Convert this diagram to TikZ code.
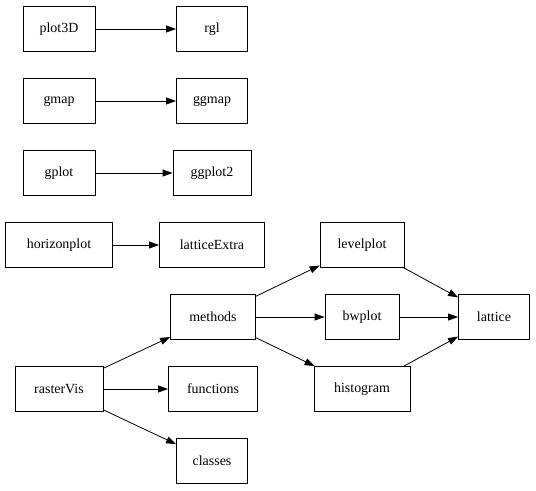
\documentclass[tikz,border=0pt]{standalone}
\usepackage{fontspec}
\setmainfont{Liberation Serif}
\usetikzlibrary{arrows.meta,positioning}

\begin{document}
\begin{tikzpicture}[x=1bp,y=-1bp,font=\fontsize{14}{16}\selectfont,
      box/.style={draw,line width=0.8pt,minimum height=45bp,inner xsep=7bp},
      dep/.style={-{Triangle[length=10bp,width=7bp]},line width=0.8pt}]
    \useasboundingbox (0,0) rectangle (536,491);

    \node[box,minimum width=72bp] (plot3D) at (59,29) {plot3D};
    \node[box,minimum width=71bp] (rgl) at (212,29) {rgl};
    \node[box,minimum width=72bp] (gmap) at (59,101) {gmap};
    \node[box,minimum width=71bp] (ggmap) at (212,101) {ggmap};
    \node[box,minimum width=72bp] (gplot) at (59,173) {gplot};
    \node[box,minimum width=78bp] (ggplot2) at (212,173) {ggplot2};
    \node[box,minimum width=107bp] (horizonplot) at (59,245) {horizonplot};
    \node[box,minimum width=105bp] (latticeExtra) at (212,245) {latticeExtra};
    \node[box,minimum width=84bp] (levelplot) at (362,245) {levelplot};
    \node[box,minimum width=85bp] (methods) at (213,317) {methods};
    \node[box,minimum width=74bp] (bwplot) at (362,317) {bwplot};
    \node[box,minimum width=71bp] (lattice) at (494,317) {lattice};
    \node[box,minimum width=88bp] (rasterVis) at (59,389) {rasterVis};
    \node[box,minimum width=89bp] (functions) at (213,389) {functions};
    \node[box,minimum width=96bp] (histogram) at (362,389) {histogram};
    \node[box,minimum width=71bp] (classes) at (212,461) {classes};

    \foreach \a/\b in {plot3D/rgl,gmap/ggmap,gplot/ggplot2,horizonplot/latticeExtra,
        rasterVis/methods,rasterVis/functions,rasterVis/classes,
        methods/levelplot,methods/bwplot,methods/histogram,
        levelplot/lattice,bwplot/lattice,histogram/lattice}
      \draw[dep] (\a) -- (\b);
\end{tikzpicture}
\end{document}
